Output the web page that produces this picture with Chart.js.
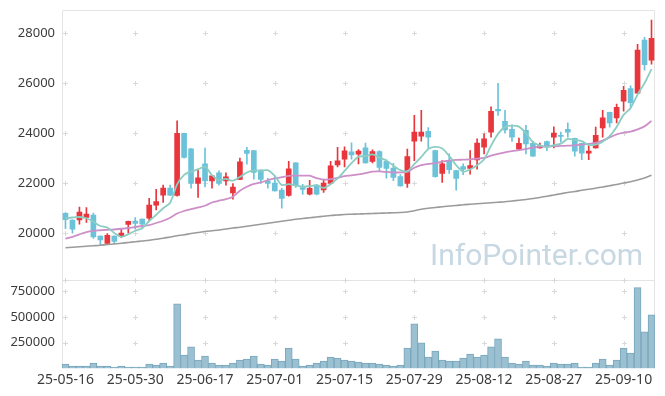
<!DOCTYPE html>
<html><head><meta charset="utf-8">
<script src="https://cdn.jsdelivr.net/npm/chart.js@4/dist/chart.umd.min.js"></script>
<style>
html,body{margin:0;padding:0;background:#fff;}
#wrap{position:relative;width:665px;height:396px;overflow:hidden;}
#c{position:absolute;left:0;top:0;}
#wm{position:absolute;left:430px;top:240px;font-family:Roboto,sans-serif;font-size:30px;line-height:30px;color:#c7d8e3;white-space:nowrap;pointer-events:none;}
</style></head><body>
<div id="wrap"><canvas id="c" width="665" height="396" style="width:665px;height:396px"></canvas><div id="wm">InfoPointer.com</div></div>
<script>
const dates = ['25-05-16','25-05-19','25-05-20','25-05-21','25-05-22','25-05-23','25-05-26','25-05-27','25-05-28','25-05-29','25-05-30','25-06-02','25-06-04','25-06-05','25-06-09','25-06-10','25-06-11','25-06-12','25-06-13','25-06-16','25-06-17','25-06-18','25-06-19','25-06-20','25-06-23','25-06-24','25-06-25','25-06-26','25-06-27','25-06-30','25-07-01','25-07-02','25-07-03','25-07-04','25-07-07','25-07-08','25-07-09','25-07-10','25-07-11','25-07-14','25-07-15','25-07-16','25-07-17','25-07-18','25-07-21','25-07-22','25-07-23','25-07-24','25-07-25','25-07-28','25-07-29','25-07-30','25-07-31','25-08-01','25-08-04','25-08-05','25-08-06','25-08-07','25-08-08','25-08-11','25-08-12','25-08-13','25-08-14','25-08-18','25-08-19','25-08-20','25-08-21','25-08-22','25-08-25','25-08-26','25-08-27','25-08-28','25-08-29','25-09-01','25-09-02','25-09-03','25-09-04','25-09-05','25-09-08','25-09-09','25-09-10','25-09-11','25-09-12','25-09-15','25-09-16'];

const opens = [20800,20530,20530,20630,20730,19890,19590,19890,19870,20350,20490,20570,20600,21120,21520,21810,21510,23990,23370,21990,22770,22090,22410,22090,21610,22150,23310,23300,22520,22090,22010,21730,21510,22810,21830,21560,21930,21730,21990,22730,22960,23250,23160,23410,22870,23260,22870,22600,22260,21990,23680,23880,24070,23300,22390,22900,22500,22660,22590,22930,23440,24040,24950,24470,24150,23360,24110,23590,23410,23660,23840,23910,24150,23790,23590,23200,23410,24210,24830,24610,25280,25780,25600,27720,26920];
const highs = [20830,20540,21050,21030,20810,19900,19990,19900,20200,20490,20630,20580,21400,21760,21930,21930,24490,24000,23380,22560,23400,22300,22490,22410,21990,23000,23430,23310,22530,22200,22280,21800,22870,22820,21960,22120,21950,22150,22870,23430,23450,23610,23340,23600,23330,23300,22930,22790,22340,23360,24710,24910,24220,23320,22900,23170,22510,22770,23300,23770,23970,25050,25990,24910,24330,23800,24310,23680,23600,23680,24250,24040,24410,23800,23600,23500,24240,24910,24840,25160,25870,25890,27550,27830,28520];
const lows = [20180,20000,20360,20430,19790,19520,19560,19590,19830,20000,20160,20170,20470,20930,21230,21500,21480,23000,21800,21430,21850,21800,21920,21920,21360,22140,22760,22160,21990,21800,21680,21000,21480,21830,21550,21530,21530,21630,21980,22650,22650,22960,22770,22800,22810,22460,22200,22100,21880,21830,22900,23680,23410,22240,22030,22390,21720,22340,22360,22560,23170,23840,24710,24000,23670,23350,23170,23070,23400,23300,23410,23640,23840,23080,22940,22940,23400,23840,24240,24410,24880,25040,25590,26520,26760];
const closes = [20540,20160,20850,20770,19850,19730,19920,19670,20010,20480,20390,20360,21130,21270,21810,21520,23990,23030,21990,22210,22090,22290,21990,22250,21850,22850,23190,22430,22150,21990,21690,21390,22570,21910,21750,21800,21560,22010,22690,22890,23290,23130,23280,22810,23260,22630,22590,22230,21890,23060,24040,24040,23840,22260,22770,22540,22190,22550,22700,23600,23770,24870,24890,24130,23840,23590,23570,23080,23490,23460,24000,23870,24040,23280,23200,23280,23910,24610,24410,25030,25710,25220,27320,26740,27790];
const volumes = [42500,22900,22900,22900,52300,22900,22900,13000,22900,13000,13000,13000,42500,32700,52300,22900,630700,130700,209200,81700,120900,52300,32700,32700,52300,81700,91500,120900,42500,32700,91500,71900,199300,91500,22900,32700,52300,71900,111100,101300,81700,71900,62100,52300,52300,42500,32700,22900,32700,199300,434600,248400,111100,169900,81700,71900,71900,101300,140500,111100,130700,209200,287600,111100,52300,42500,71900,32700,32700,22900,52300,42500,42500,52300,13000,13000,52300,91500,32700,81700,199300,150300,787600,356200,522900];
const ma5 = [20600,20630,20650,20600,20460,20290,20230,20010,19860,19960,20100,20200,20490,20740,21000,21220,21950,22330,22470,22550,22660,22320,22120,22170,22100,22250,22430,22510,22500,22520,22290,21930,21960,21910,21860,21880,21920,21810,21960,22190,22490,22800,23060,23080,23150,23020,22910,22700,22520,22480,22760,23050,23370,23450,23390,23090,22720,22460,22550,22720,22960,23500,23970,24250,24300,24260,24000,23640,23510,23440,23520,23580,23770,23730,23680,23530,23540,23660,23880,24250,24730,25000,25540,26000,26560];
const ma20 = [19780,19860,19960,20050,20100,20120,20140,20150,20180,20210,20250,20290,20330,20410,20500,20620,20790,20890,20960,21030,21100,21230,21300,21360,21460,21700,21860,21970,22030,22120,22190,22240,22290,22300,22300,22300,22200,22140,22160,22210,22280,22310,22350,22400,22460,22470,22450,22430,22430,22450,22620,22720,22770,22800,22860,22900,22930,22940,22950,22980,23010,23100,23170,23230,23280,23320,23370,23420,23460,23470,23480,23490,23500,23510,23540,23570,23610,23700,23830,23950,24020,24060,24150,24270,24490];
const ma120 = [19420,19440,19460,19480,19500,19520,19550,19570,19600,19630,19660,19690,19720,19760,19800,19850,19900,19940,19990,20030,20070,20100,20130,20170,20210,20240,20280,20320,20360,20400,20440,20480,20520,20560,20590,20620,20650,20680,20710,20730,20750,20760,20770,20780,20790,20800,20810,20820,20830,20850,20900,20960,21000,21030,21060,21090,21110,21140,21160,21180,21200,21220,21240,21260,21290,21320,21350,21390,21430,21480,21530,21580,21630,21670,21720,21760,21800,21850,21900,21950,22010,22060,22130,22210,22320];
const priceTicks = [20000,22000,24000,26000,28000];
const volumeTicks = [250000,500000,750000];
const dateTickEvery = 10;

const UP = '#e9353c', DOWN = '#6cc3d9';
const candleColors = closes.map((c, i) => c >= opens[i] ? UP : DOWN);

const framePlugin = {
  id: 'frames',
  beforeDatasetsDraw(chart) {
    const {ctx, chartArea: a, scales} = chart;
    const x = scales.x, y = scales.y, v = scales.v;
    const L = Math.round(a.left) + 0.5, R = Math.round(a.right) - 0.5;
    const yT = Math.round(y.top) + 0.5, yB = Math.round(y.bottom) + 0.5, vB = Math.round(v.bottom);
    ctx.save();
    ctx.lineWidth = 1;
    ctx.strokeStyle = '#e4e4e4';
    ctx.beginPath();
    ctx.moveTo(L, yT); ctx.lineTo(R, yT); ctx.lineTo(R, vB); ctx.moveTo(L, yT); ctx.lineTo(L, vB);
    ctx.moveTo(L, yB); ctx.lineTo(R, yB);
    ctx.stroke();
    ctx.strokeStyle = '#d9d9d9';
    const xs = x.ticks.map((t, i) => Math.round(x.getPixelForTick(i)) + 0.5);
    const ys = y.ticks.map((t, i) => Math.round(y.getPixelForTick(i)) + 0.5)
      .concat(v.ticks.map((t, i) => Math.round(v.getPixelForTick(i)) + 0.5));
    ys.push(yB);
    ctx.beginPath();
    for (const px of xs) {
      for (const py of ys) {
        ctx.moveTo(px - 2.5, py); ctx.lineTo(px + 2.5, py);
        ctx.moveTo(px, py - 2.5); ctx.lineTo(px, py + 2.5);
      }
    }
    ctx.stroke();
    ctx.restore();
  }
};

const tickFont = {family: "'Noto Sans', sans-serif", size: 13};
const fitLeft = s => { s.width = 62; s.paddingTop = 0; s.paddingBottom = 0; };

new Chart(document.getElementById('c'), {
  type: 'bar',
  data: {
    labels: dates,
    datasets: [
      {type: 'line', label: 'MA5', data: ma5, yAxisID: 'y', borderColor: '#8ccdc3', borderWidth: 1.8, pointRadius: 0, tension: 0.25, order: 0},
      {type: 'line', label: 'MA20', data: ma20, yAxisID: 'y', borderColor: '#cd8fc7', borderWidth: 1.8, pointRadius: 0, tension: 0.25, order: 0},
      {type: 'line', label: 'MA120', data: ma120, yAxisID: 'y', borderColor: '#9b9b9b', borderWidth: 1.6, pointRadius: 0, tension: 0.25, order: 0},
      {label: 'body', data: opens.map((o, i) => [o, closes[i]]), yAxisID: 'y', backgroundColor: candleColors, barThickness: 5, minBarLength: 1, grouped: false, order: 1},
      {label: 'wick', data: lows.map((l, i) => [l, highs[i]]), yAxisID: 'y', backgroundColor: candleColors, barThickness: 1, grouped: false, order: 2},
      {label: 'volume', data: volumes, yAxisID: 'v', backgroundColor: '#9bc0d1', borderColor: '#78a6bb', borderWidth: 1, barPercentage: 1, categoryPercentage: 1, grouped: false, order: 3}
    ]
  },
  options: {
    responsive: false,
    animation: false,
    events: [],
    layout: {padding: {top: 10, right: 10, bottom: 4.8, left: 0}},
    plugins: {legend: {display: false}, tooltip: {enabled: false}},
    scales: {
      x: {
        type: 'category', offset: true,
        grid: {display: false, drawTicks: false}, border: {display: false},
        ticks: {autoSkip: false, maxRotation: 0, minRotation: 0, padding: 3, color: '#3c3c3c', font: {family: "'Noto Sans', sans-serif", size: 14}},
        afterBuildTicks: s => { s.ticks = s.ticks.filter(t => t.value % dateTickEvery === 0); }
      },
      y: {
        type: 'linear', position: 'left', stack: 'panels', stackWeight: 268.3, weight: 2,
        min: 18150, max: 28920,
        grid: {display: false, drawTicks: false}, border: {display: false},
        ticks: {padding: 7, color: '#3c3c3c', font: tickFont, callback: v => String(v)},
        afterBuildTicks: s => { s.ticks = priceTicks.map(v => ({value: v})); },
        afterFit: fitLeft
      },
      v: {
        type: 'linear', position: 'left', stack: 'panels', stackWeight: 88.4, weight: 1,
        min: 0, max: 866000,
        grid: {display: false, drawTicks: false}, border: {display: false},
        ticks: {padding: 7, color: '#3c3c3c', font: tickFont, callback: v => String(v)},
        afterBuildTicks: s => { s.ticks = volumeTicks.map(v => ({value: v})); },
        afterFit: fitLeft
      }
    }
  },
  plugins: [framePlugin]
});
</script>
</body></html>
